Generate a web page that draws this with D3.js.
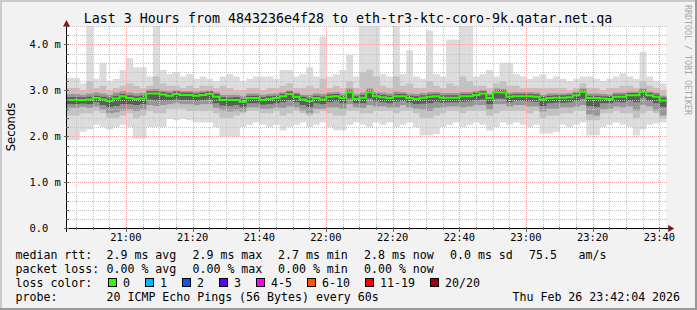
<!DOCTYPE html>
<html><head><meta charset="utf-8">
<script src="https://cdn.jsdelivr.net/npm/d3@7"></script>
<style>body{margin:0;background:#fff}svg{display:block}text{white-space:pre}</style>
</head><body>
<script>
// ---------- data ----------
const title = "Last 3 Hours from 4843236e4f28 to eth-tr3-ktc-coro-9k.qatar.net.qa";
const endTime = new Date(2026, 1, 26, 23, 42, 4);
const spanHours = 3;
const stepMinutes = 2;
// median RTT per step (ms)
const median = [2.79,2.79,2.79,2.80,2.83,2.80,2.77,2.82,2.87,2.83,2.81,2.82,2.93,2.93,2.91,2.88,2.92,2.90,2.90,2.88,
2.90,2.92,2.86,2.79,2.79,2.79,2.75,2.83,2.83,2.79,2.81,2.83,2.87,2.92,2.86,2.80,2.77,2.83,2.80,2.86,
2.87,2.83,2.96,2.81,2.84,2.96,2.87,2.85,2.83,2.87,2.87,2.83,2.81,2.84,2.86,2.87,2.84,2.84,2.84,2.87,
2.87,2.90,2.93,2.83,2.96,2.95,2.86,2.87,2.87,2.87,2.86,2.80,2.83,2.84,2.84,2.85,2.89,2.97,2.83,2.83,
2.82,2.81,2.86,2.86,2.89,2.89,2.97,2.89,2.86,2.78];
// slowest ping per step
const pingMax = [3.27,3.27,3.15,4.4,3.25,3.6,3.2,3.25,3.44,3.7,3.5,3.5,3.3,4.4,3.44,3.35,3.4,3.3,3.35,3.25,
3.3,3.25,3.2,3.3,3.35,3.3,3.2,3.25,3.3,3.3,3.3,3.25,3.44,3.44,3.3,3.35,3.5,3.3,4.17,3.3,
3.35,3.44,3.77,3.3,4.4,4.4,4.4,3.35,3.3,4.4,3.35,3.87,3.3,3.25,4.3,3.35,3.3,4.1,4.1,4.4,
4.4,3.3,3.35,3.44,3.3,3.6,3.6,3.35,3.3,3.25,3.3,3.35,3.25,3.3,3.25,3.2,3.25,3.3,3.3,3.25,
3.2,3.25,3.3,3.37,3.3,3.25,3.84,3.3,3.2,3.15];
// fastest ping per step
const pingMin = [1.92,1.92,2.1,2.15,2.25,2.2,2.15,2.2,2.25,2.2,1.95,1.95,2.2,2.2,2.2,2.38,2.35,2.38,2.35,2.3,
2.3,2.3,2.2,2.0,2.0,2.0,2.2,2.25,2.3,2.25,2.2,2.25,2.13,2.2,2.25,2.3,2.2,2.25,2.3,2.2,
2.13,2.13,2.25,2.3,2.25,2.2,2.3,2.25,2.3,2.2,2.25,2.3,2.2,2.02,2.02,2.05,2.2,2.25,2.3,2.2,
2.25,2.3,2.25,2.13,2.2,2.3,2.25,2.3,2.25,2.2,2.25,2.06,2.06,2.1,2.25,2.2,2.25,2.3,2.02,2.02,
2.2,2.25,2.3,2.25,2.2,2.02,2.15,2.25,2.28,2.3];
// outer-middle smoke band (upper / lower)
const bandHi = [3.05,3.05,3.0,3.2,3.05,3.1,3.0,3.05,3.1,3.15,3.1,3.05,3.1,3.3,3.15,3.1,3.1,3.05,3.1,3.05,
3.1,3.1,3.05,3.1,3.05,3.0,3.0,3.05,3.05,3.0,3.05,3.05,3.1,3.15,3.05,3.05,3.1,3.05,3.25,3.05,
3.1,3.05,3.2,3.05,3.4,3.45,3.3,3.1,3.05,3.3,3.1,3.15,3.05,3.05,3.2,3.1,3.05,3.15,3.1,3.3,
3.2,3.1,3.1,3.05,3.15,3.2,3.1,3.1,3.05,3.05,3.05,3.05,3.05,3.05,3.05,3.0,3.05,3.15,3.05,3.05,
3.0,3.05,3.05,3.1,3.1,3.05,3.2,3.1,3.05,3.0];
const bandLo = [2.45,2.45,2.5,2.5,2.55,2.5,2.4,2.4,2.45,2.5,2.4,2.45,2.55,2.5,2.5,2.6,2.6,2.6,2.55,2.55,
2.55,2.55,2.5,2.4,2.4,2.45,2.5,2.55,2.55,2.5,2.5,2.55,2.45,2.5,2.55,2.5,2.45,2.5,2.55,2.5,
2.45,2.45,2.55,2.55,2.5,2.5,2.55,2.55,2.55,2.5,2.55,2.55,2.5,2.4,2.4,2.45,2.5,2.55,2.55,2.5,
2.55,2.55,2.55,2.45,2.5,2.55,2.55,2.55,2.55,2.5,2.55,2.4,2.45,2.45,2.5,2.5,2.55,2.55,2.35,2.35,
2.5,2.5,2.55,2.5,2.5,2.4,2.5,2.55,2.5,2.4];
// dense smoke band (upper / lower)
const coreHi = [2.92,2.92,2.9,2.93,2.95,2.93,2.9,2.95,2.98,2.95,2.93,2.94,3.02,3.03,3.0,2.98,3.0,2.98,2.98,2.97,
2.98,3.0,2.96,2.9,2.9,2.9,2.88,2.93,2.93,2.9,2.92,2.93,2.96,3.0,2.95,2.9,2.9,2.93,2.92,2.95,
2.96,2.93,3.04,2.92,2.95,3.04,2.96,2.95,2.93,2.97,2.96,2.93,2.92,2.94,2.96,2.96,2.94,2.94,2.94,2.96,
2.96,2.98,3.01,2.93,3.04,3.03,2.95,2.96,2.96,2.96,2.95,2.9,2.93,2.93,2.93,2.94,2.97,3.04,2.93,2.93,
2.92,2.91,2.95,2.95,2.97,2.97,3.04,2.97,2.95,2.88];
const coreLo = [2.62,2.62,2.64,2.62,2.65,2.58,2.5,2.52,2.56,2.58,2.55,2.58,2.68,2.66,2.68,2.7,2.72,2.7,2.7,2.68,
2.7,2.7,2.62,2.56,2.54,2.56,2.54,2.63,2.63,2.6,2.6,2.63,2.62,2.65,2.63,2.56,2.5,2.6,2.6,2.63,
2.63,2.6,2.7,2.63,2.62,2.68,2.65,2.65,2.63,2.63,2.68,2.63,2.6,2.58,2.55,2.62,2.63,2.65,2.65,2.63,
2.65,2.68,2.68,2.58,2.7,2.7,2.65,2.68,2.68,2.65,2.65,2.54,2.6,2.6,2.63,2.63,2.65,2.68,2.48,2.45,
2.58,2.6,2.65,2.63,2.65,2.56,2.68,2.65,2.56,2.45];
// innermost (darkest) smoke band (upper / lower)
const innerHi = [2.85,2.85,2.85,2.86,2.88,2.86,2.84,2.88,2.92,2.89,2.87,2.88,2.98,2.98,2.96,2.94,2.97,2.95,2.95,2.93,
2.95,2.97,2.92,2.85,2.84,2.85,2.81,2.88,2.88,2.85,2.87,2.88,2.92,2.97,2.92,2.86,2.83,2.88,2.86,2.91,
2.92,2.88,3.00,2.87,2.90,3.00,2.92,2.90,2.88,2.92,2.92,2.88,2.87,2.89,2.91,2.92,2.89,2.89,2.89,2.92,
2.92,2.95,2.98,2.89,3.00,3.00,2.91,2.92,2.92,2.92,2.91,2.86,2.88,2.89,2.89,2.90,2.94,3.01,2.88,2.88,
2.87,2.87,2.91,2.91,2.94,2.94,3.01,2.94,2.91,2.84];
const innerLo = [2.70,2.70,2.71,2.70,2.74,2.68,2.64,2.66,2.70,2.70,2.68,2.70,2.80,2.78,2.78,2.78,2.80,2.79,2.79,2.77,
2.79,2.80,2.72,2.67,2.66,2.68,2.64,2.72,2.72,2.69,2.70,2.72,2.74,2.78,2.74,2.68,2.64,2.72,2.70,2.74,
2.76,2.72,2.82,2.72,2.72,2.82,2.76,2.74,2.72,2.75,2.77,2.73,2.70,2.71,2.72,2.75,2.73,2.74,2.74,2.75,
2.76,2.79,2.80,2.70,2.82,2.82,2.74,2.77,2.77,2.76,2.75,2.66,2.72,2.73,2.73,2.74,2.77,2.82,2.66,2.64,
2.72,2.72,2.75,2.74,2.77,2.74,2.84,2.77,2.72,2.64];
const yTicks = [0, 1, 2, 3, 4];
const yTickLabels = ["0.0", "1.0 m", "2.0 m", "3.0 m", "4.0 m"];
const yMax = 4.4;
const yLabel = "Seconds";
const lossLabels = ["0", "1", "2", "3", "4-5", "6-10", "11-19", "20/20"];
const lossColors = ["#26ff00", "#00b8ff", "#0059ff", "#5e00ff", "#ff00ff", "#ff5500", "#ff0000", "#a10000"];
const legendRtt = ["median rtt:", "2.9 ms avg", "2.9 ms max", "2.7 ms min", "2.8 ms now", "0.0 ms sd", "75.5", "am/s"];
const legendLoss = ["packet loss:", "0.00 % avg", "0.00 % max", "0.00 % min", "0.00 % now"];
const legendProbe = ["probe:", "20 ICMP Echo Pings (56 Bytes) every 60s", "Thu Feb 26 23:42:04 2026"];
const watermark = "RRDTOOL / TOBI OETIKER";

// ---------- layout ----------
const W = 697, H = 310;
const startTime = new Date(endTime.getTime() - spanHours * 3600e3);
const x = d3.scaleTime().domain([startTime, endTime]).range([66.2, 666.2]);
const y = d3.scaleLinear().domain([0, yMax]).range([228.3, 25.9]);
const mono = "'DejaVu Sans Mono', monospace";

const svg = d3.select("body").append("svg").attr("width", W).attr("height", H);
svg.append("rect").attr("width", W).attr("height", H).attr("fill", "#f2f2f2");
// 3D frame
svg.append("rect").attr("x", 0).attr("y", 0).attr("width", W).attr("height", 2).attr("fill", "#cbcbcb");
svg.append("rect").attr("x", 0).attr("y", 0).attr("width", 2).attr("height", H).attr("fill", "#cbcbcb");
svg.append("rect").attr("x", 0).attr("y", H - 2).attr("width", W).attr("height", 2).attr("fill", "#999");
svg.append("rect").attr("x", W - 2).attr("y", 0).attr("width", 2).attr("height", H).attr("fill", "#999");

// canvas
const [x0, x1] = x.range();
svg.append("rect").attr("x", x0).attr("y", y(yMax)).attr("width", x1 - x0).attr("height", y(0) - y(yMax)).attr("fill", "#fff");

// smoke
const stepMs = stepMinutes * 60e3;
const cols = median.map((m, i) => ({
  t0: new Date(startTime.getTime() + i * stepMs),
  t1: new Date(startTime.getTime() + (i + 1) * stepMs),
  med: m, max: pingMax[i], min: pingMin[i], hi2: bandHi[i], lo2: bandLo[i],
  hi3: coreHi[i], lo3: coreLo[i], hi4: innerHi[i], lo4: innerLo[i]
}));
const cy = v => y(Math.min(v, yMax));
const bands = [["min", "max", "#dcdcdc"], ["lo2", "hi2", "#c2c2c2"], ["lo3", "hi3", "#979797"], ["lo4", "hi4", "#5c5c5c"]];
const gSmoke = svg.append("g");
bands.forEach(([lo, hi, col]) => {
  gSmoke.append("g").selectAll("rect").data(cols).join("rect")
    .attr("x", d => x(d.t0)).attr("width", d => x(d.t1) - x(d.t0) + 0.3)
    .attr("y", d => cy(d[hi])).attr("height", d => cy(d[lo]) - cy(d[hi]))
    .attr("fill", col);
});

// grid
const gGrid = svg.append("g").attr("shape-rendering", "crispEdges");
const minorY = d3.range(1, Math.round(yMax / 0.2) + 1).map(k => +(k * 0.2).toFixed(1)).filter(v => !yTicks.includes(v));
gGrid.selectAll(".hy").data(minorY).join("line")
  .attr("x1", x0).attr("x2", x1 + 1).attr("y1", d => Math.round(y(d)) + 0.5).attr("y2", d => Math.round(y(d)) + 0.5)
  .attr("stroke", "#c4c4c4").attr("stroke-dasharray", "1,1");
const minorX = x.ticks(d3.timeMinute.every(5)).filter(t => t.getMinutes() % 20 !== 0);
const majorX = x.ticks(d3.timeMinute.every(20));
gGrid.selectAll(".vx").data(minorX).join("line")
  .attr("x1", d => Math.round(x(d)) + 0.5).attr("x2", d => Math.round(x(d)) + 0.5)
  .attr("y1", y(yMax)).attr("y2", y(0)).attr("stroke", "#c4c4c4").attr("stroke-dasharray", "1,1");
gGrid.selectAll(".my").data(yTicks.filter(v => v > 0)).join("line")
  .attr("x1", x0).attr("x2", x1 + 1).attr("y1", d => Math.round(y(d)) + 0.5).attr("y2", d => Math.round(y(d)) + 0.5)
  .attr("stroke", "#eea2a2").attr("stroke-dasharray", "1,1");
gGrid.selectAll(".mx").data(majorX).join("line")
  .attr("x1", d => Math.round(x(d)) + 0.5).attr("x2", d => Math.round(x(d)) + 0.5)
  .attr("y1", y(yMax)).attr("y2", y(0)).attr("stroke", "#eea2a2").attr("stroke-dasharray", "1,1");

// median line
const medPts = cols.map(d => [d.t0, d.med]).concat([[cols[cols.length - 1].t1, median[median.length - 1]]]);
svg.append("path").datum(medPts)
  .attr("d", d3.line().x(d => x(d[0])).y(d => y(d[1])).curve(d3.curveStepAfter))
  .attr("fill", "none").attr("stroke", lossColors[0]).attr("stroke-width", 2);

// axes
const ax = svg.append("g").attr("shape-rendering", "crispEdges");
const axX = Math.round(x0) + 0.5, axY = Math.round(y(0)) + 0.5;
ax.append("line").attr("x1", axX - 3).attr("x2", x1 + 5).attr("y1", axY).attr("y2", axY).attr("stroke", "#000");
ax.append("line").attr("x1", axX).attr("x2", axX).attr("y1", axY + 3).attr("y2", y(yMax) - 3).attr("stroke", "#000");
ax.selectAll(".ty").data(yTicks.concat(minorY)).join("line")
  .attr("x1", d => yTicks.includes(d) ? axX - 3 : axX - 1).attr("x2", axX + 2)
  .attr("y1", d => Math.round(y(d)) + 0.5).attr("y2", d => Math.round(y(d)) + 0.5).attr("stroke", "#666");
ax.selectAll(".tx").data(majorX.concat(minorX)).join("line")
  .attr("x1", d => Math.round(x(d)) + 0.5).attr("x2", d => Math.round(x(d)) + 0.5)
  .attr("y1", d => majorX.includes(d) ? axY + 3 : axY + 1).attr("y2", axY - 2).attr("stroke", "#666");
// arrows
svg.append("path").attr("d", `M${axX - 3.5},${y(yMax) + 0.5} L${axX + 3.5},${y(yMax) + 0.5} L${axX},${y(yMax) - 6} Z`).attr("fill", "#7f1818");
svg.append("path").attr("d", `M${x1 + 2},${axY - 3.5} L${x1 + 2},${axY + 3.5} L${x1 + 8},${axY} Z`).attr("fill", "#7f1818");

// tick labels
svg.append("g").selectAll("text").data(yTicks).join("text")
  .attr("x", 29.5).attr("y", d => y(d) + 3.8).text((d, i) => yTickLabels[i])
  .attr("font-family", mono).attr("font-size", "10.4px").attr("fill", "#000");
svg.append("g").selectAll("text").data(majorX).join("text")
  .attr("x", d => x(d)).attr("y", 241).attr("text-anchor", "middle").text(d3.timeFormat("%H:%M"))
  .attr("font-family", mono).attr("font-size", "10.4px").attr("fill", "#000");

// title & labels
svg.append("text").attr("x", 348).attr("y", 23).attr("text-anchor", "middle").text(title)
  .attr("font-family", mono).attr("font-size", "13.3px").attr("fill", "#000");
svg.append("text").attr("transform", "translate(15,127) rotate(-90)").attr("text-anchor", "middle").text(yLabel)
  .attr("font-family", "'DejaVu Sans', sans-serif").attr("font-size", "11.6px").attr("fill", "#000");
svg.append("text").attr("transform", "translate(685,5) rotate(90)").text(watermark)
  .attr("font-family", mono).attr("font-size", "8.3px").attr("fill", "#a8a8a8");

// legend
const lf = {"font-family": mono, "font-size": "11.6px", "fill": "#000"};
function put(tx, ty, s) {
  const t = svg.append("text").attr("x", tx).attr("y", ty).text(s);
  Object.entries(lf).forEach(([k, v]) => t.attr(k, v));
}
const colX = [15.5, 106.5, 192.5, 278, 364, 450, 529, 578.5];
legendRtt.forEach((s, i) => put(colX[i], 258.5, s));
legendLoss.forEach((s, i) => put(colX[i], 272.5, s));
put(15.5, 286.5, "loss color:");
const boxX = [108.5, 145.5, 182.5, 219.5, 256.5, 307.5, 365.5, 430.5];
lossLabels.forEach((s, i) => {
  svg.append("rect").attr("x", boxX[i]).attr("y", 278.5).attr("width", 8).attr("height", 8)
    .attr("fill", lossColors[i]).attr("stroke", "#000").attr("stroke-width", 1);
  put(boxX[i] + 14.5, 286.5, s);
});
put(15.5, 300.5, legendProbe[0]);
put(106.5, 300.5, legendProbe[1]);
put(512.5, 300.5, legendProbe[2]);
</script>
</body></html>
